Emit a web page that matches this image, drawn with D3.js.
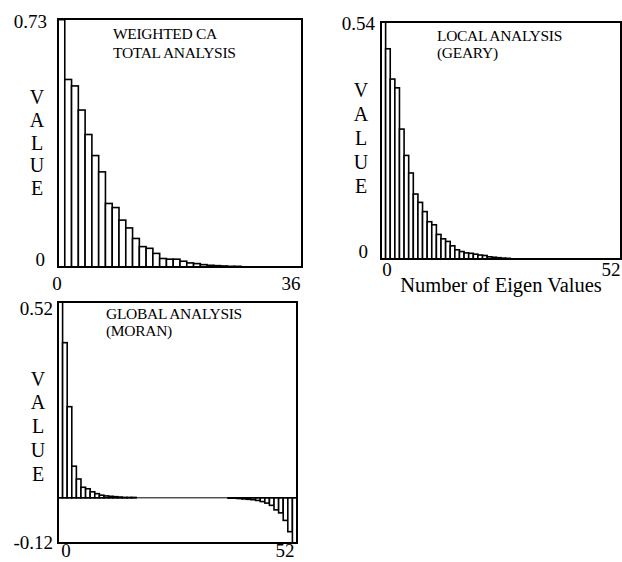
<!DOCTYPE html>
<html>
<head>
<meta charset="utf-8">
<script src="https://cdn.jsdelivr.net/npm/d3@7"></script>
<style>
  html, body { margin: 0; padding: 0; background: #fff; }
  svg { display: block; }
  text { font-family: "Liberation Serif", "Times New Roman", serif; fill: #000; }
</style>
</head>
<body>
<svg id="chart" width="622" height="562"></svg>
<script>
// ---------- DATA ----------
const caValues = [0.728, 0.552, 0.533, 0.462, 0.390, 0.328, 0.280, 0.187, 0.175, 0.138,
  0.115, 0.084, 0.060, 0.055, 0.040, 0.025, 0.023, 0.023, 0.017, 0.012,
  0.010, 0.007, 0.005, 0.004, 0.003, 0.002, 0.002];
const gearyValues = [0.540, 0.479, 0.410, 0.390, 0.296, 0.236, 0.196, 0.148, 0.129, 0.108,
  0.085, 0.078, 0.056, 0.046, 0.040, 0.030, 0.021, 0.017, 0.014, 0.013,
  0.011, 0.009, 0.008, 0.005, 0.004, 0.003, 0.002, 0.0015];
const moranValues = [0.520, 0.412, 0.242, 0.084, 0.050, 0.028, 0.024, 0.016, 0.011, 0.007,
  0.005, 0.004, 0.003, 0.002, 0.001, 0.001, 0.001, 0, 0, 0,
  0, 0, 0, 0, 0, 0, 0, 0, 0, 0,
  0, 0, 0, 0, 0, 0, 0, -0.001, -0.001, -0.002,
  -0.003, -0.004, -0.005, -0.007, -0.010, -0.014, -0.020, -0.032, -0.040, -0.060,
  -0.090, -0.120];

const caXTicks = [0, 36];
const gearyXTicks = [0, 52];
const moranXTicks = [0, 52];
const caYTicks = ["0", "0.73"];
const gearyYTicks = ["0", "0.54"];
const moranYTicks = ["-0.12", "0.52"];

const caTitle = ["WEIGHTED CA", "TOTAL ANALYSIS"];
const gearyTitle = ["LOCAL ANALYSIS", "(GEARY)"];
const moranTitle = ["GLOBAL ANALYSIS", "(MORAN)"];
const yLetters = ["V", "A", "L", "U", "E"];
const xAxisTitle = "Number of Eigen Values";

// ---------- LAYOUT ----------
const svg = d3.select("#chart");

const panels = [
  { values: caValues, xTicks: caXTicks, yTicks: caYTicks, title: caTitle,
    x0: 58, x1: 302, y0: 19, y1: 267, yMin: 0, yMax: 0.73, xMax: 36,
    titleX: 113, titleY: [39, 58],
    letterX: 37, letterY: 97, letterStep: 22.8,
    yLabel: [{ dx: -13, dy: -1 }, { dx: -11, dy: 9 }],
    xLabel: [{ x: 57, y: 290 }, { x: 291, y: 290 }] },
  { values: gearyValues, xTicks: gearyXTicks, yTicks: gearyYTicks, title: gearyTitle,
    x0: 381, x1: 621, y0: 22, y1: 259, yMin: 0, yMax: 0.54, xMax: 52,
    titleX: 437, titleY: [41, 58],
    letterX: 361, letterY: 90, letterStep: 24,
    yLabel: [{ dx: -13, dy: -1 }, { dx: -6, dy: 8 }],
    xLabel: [{ x: 387, y: 276 }, { x: 611, y: 276 }] },
  { values: moranValues, xTicks: moranXTicks, yTicks: moranYTicks, title: moranTitle,
    x0: 58, x1: 297, y0: 302, y1: 543, yMin: -0.12, yMax: 0.52, xMax: 52,
    titleX: 106, titleY: [319, 336],
    letterX: 38, letterY: 378.5, letterStep: 23.8,
    yLabel: [{ dx: -5, dy: 6 }, { dx: -5, dy: 13 }],
    xLabel: [{ x: 66, y: 557 }, { x: 285, y: 557 }] }
];

panels.forEach(p => {
  const x = d3.scaleLinear().domain([0, p.xMax]).range([p.x0, p.x1]);
  const y = d3.scaleLinear().domain([p.yMin, p.yMax]).range([p.y1, p.y0]);
  const g = svg.append("g");

  // bars
  g.selectAll("rect.bar")
    .data(p.values)
    .join("rect")
    .attr("class", "bar")
    .attr("x", (d, i) => x(i))
    .attr("width", (d, i) => x(i + 1) - x(i))
    .attr("y", d => y(Math.max(0, d)))
    .attr("height", d => Math.abs(y(d) - y(0)))
    .attr("fill", "#fff")
    .attr("stroke", "#000")
    .attr("stroke-width", 1.6);

  // zero line (for panel with negatives)
  if (p.yMin < 0) {
    g.append("line")
      .attr("x1", p.x0).attr("x2", p.x1)
      .attr("y1", y(0)).attr("y2", y(0))
      .attr("stroke", "#000").attr("stroke-width", 1);
  }

  // frame
  g.append("rect")
    .attr("x", p.x0).attr("y", p.y0)
    .attr("width", p.x1 - p.x0).attr("height", p.y1 - p.y0)
    .attr("fill", "none").attr("stroke", "#000").attr("stroke-width", 2);

  // y tick labels (min, max)
  const yVals = [p.yMin, p.yMax];
  g.selectAll("text.ytick")
    .data(p.yTicks)
    .join("text")
    .attr("class", "ytick")
    .attr("x", (d, i) => p.x0 + p.yLabel[i].dx)
    .attr("y", (d, i) => y(yVals[i]) + p.yLabel[i].dy)
    .attr("text-anchor", "end")
    .attr("font-size", 19)
    .text(d => d);

  // x tick labels
  g.selectAll("text.xtick")
    .data(p.xTicks)
    .join("text")
    .attr("class", "xtick")
    .attr("x", (d, i) => p.xLabel[i].x)
    .attr("y", (d, i) => p.xLabel[i].y)
    .attr("text-anchor", "middle")
    .attr("font-size", 19)
    .text(d => d);

  // title
  g.selectAll("text.title")
    .data(p.title)
    .join("text")
    .attr("class", "title")
    .attr("x", p.titleX)
    .attr("y", (d, i) => p.titleY[i])
    .attr("font-size", 15.5)
    .attr("letter-spacing", -0.3)
    .text(d => d);

  // vertical VALUE letters
  g.selectAll("text.letter")
    .data(yLetters)
    .join("text")
    .attr("class", "letter")
    .attr("x", p.letterX)
    .attr("y", (d, i) => p.letterY + i * p.letterStep)
    .attr("dy", "0.35em")
    .attr("text-anchor", "middle")
    .attr("font-size", 20)
    .text(d => d);
});

// x axis title for the Geary panel
svg.append("text")
  .attr("x", 501)
  .attr("y", 292)
  .attr("text-anchor", "middle")
  .attr("font-size", 20.5)
  .text(xAxisTitle);
</script>
</body>
</html>
